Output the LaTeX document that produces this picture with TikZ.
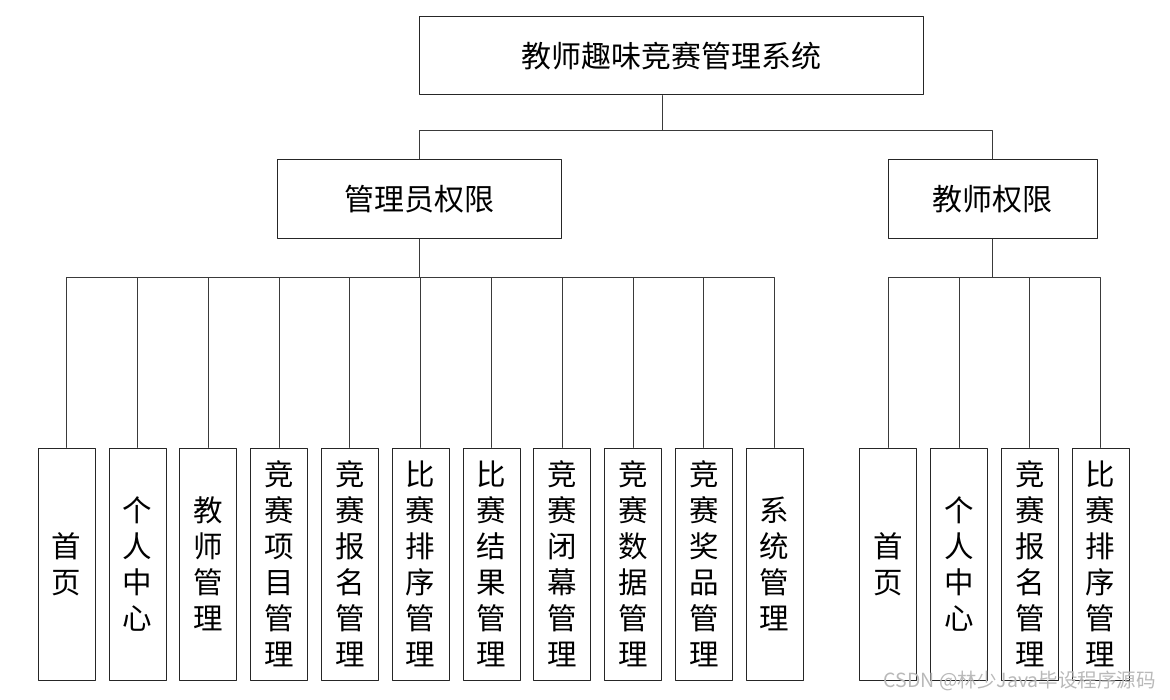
\documentclass[tikz,border=0pt]{standalone}
\usepackage{fontspec}
\setmainfont{Noto Sans CJK SC}
\usepackage{tikz}
\usetikzlibrary{positioning, calc}
\definecolor{boxline}{HTML}{262626}
\definecolor{linkgray}{HTML}{3A3A3A}
\definecolor{markgray}{HTML}{B9B9B9}

\begin{document}
\begin{tikzpicture}[x=1pt, y=-1pt, line cap=round, line join=round,
    sysbox/.style={draw=boxline, line width=1pt, minimum width=504pt, minimum height=78pt,
      inner sep=0pt, font=\fontsize{30pt}{36pt}\selectfont},
    rolebox/.style={draw=boxline, line width=1pt, minimum height=79pt,
      inner sep=0pt, font=\fontsize{30pt}{36pt}\selectfont},
    leafbox/.style={draw=boxline, line width=1pt, minimum width=57pt, minimum height=232pt,
      inner sep=0pt, align=center, font=\fontsize{29.5pt}{36pt}\selectfont},
    link/.style={draw=linkgray, line width=0.9pt}]

      \useasboundingbox (0,0) rectangle (1170,700);

      % Sistema (Arriba)
      \node[sysbox] (Sys) at (671,56) {教师趣味竞赛管理系统};

      % Permisos - Admin / Teacher
      \node[rolebox, minimum width=284pt] (Adm) at (419,199) {管理员权限};
      \node[rolebox, minimum width=209pt] (Tea) at (992.5,199) {教师权限};

      % Admin (Izquierda) - 11 modulos
      \node[leafbox] (Adm1)  at (66.7,564)  {首\\页};
      \node[leafbox] (Adm2)  at (137.5,564) {个\\人\\中\\心};
      \node[leafbox] (Adm3)  at (208.3,564) {教\\师\\管\\理};
      \node[leafbox] (Adm4)  at (279.1,564) {竞\\赛\\项\\目\\管\\理};
      \node[leafbox] (Adm5)  at (349.9,564) {竞\\赛\\报\\名\\管\\理};
      \node[leafbox] (Adm6)  at (420.7,564) {比\\赛\\排\\序\\管\\理};
      \node[leafbox] (Adm7)  at (491.5,564) {比\\赛\\结\\果\\管\\理};
      \node[leafbox] (Adm8)  at (562.3,564) {竞\\赛\\闭\\幕\\管\\理};
      \node[leafbox] (Adm9)  at (633.1,564) {竞\\赛\\数\\据\\管\\理};
      \node[leafbox] (Adm10) at (703.9,564) {竞\\赛\\奖\\品\\管\\理};
      \node[leafbox] (Adm11) at (774.7,564) {系\\统\\管\\理};

      % Teacher (Derecha) - 4 modulos
      \node[leafbox] (Tea1) at (888.3,564)  {首\\页};
      \node[leafbox] (Tea2) at (959.1,564)  {个\\人\\中\\心};
      \node[leafbox] (Tea3) at (1029.9,564) {竞\\赛\\报\\名\\管\\理};
      \node[leafbox] (Tea4) at (1100.7,564) {比\\赛\\排\\序\\管\\理};

      % Conectores
      \coordinate (TopBus) at (662,130.5);
      \coordinate (AdmBus) at (419,277.5);
      \coordinate (TeaBus) at (992.5,277.5);

      \draw[link] ([xshift=-9pt]Sys.south) -- (TopBus);
      \draw[link] (Adm.north) |- (TopBus) -| (Tea.north);

      \draw[link] (Adm.south) -- (AdmBus);
      \draw[link] (Adm1.north) |- (AdmBus);
      \draw[link] (Adm2.north) |- (AdmBus);
      \draw[link] (Adm3.north) |- (AdmBus);
      \draw[link] (Adm4.north) |- (AdmBus);
      \draw[link] (Adm5.north) |- (AdmBus);
      \draw[link] (Adm6.north) |- (AdmBus);
      \draw[link] (Adm7.north) |- (AdmBus);
      \draw[link] (Adm8.north) |- (AdmBus);
      \draw[link] (Adm9.north) |- (AdmBus);
      \draw[link] (Adm10.north) |- (AdmBus);
      \draw[link] (Adm11.north) |- (AdmBus);

      \draw[link] (Tea.south) -- (TeaBus);
      \draw[link] (Tea1.north) |- (TeaBus);
      \draw[link] (Tea2.north) |- (TeaBus);
      \draw[link] (Tea3.north) |- (TeaBus);
      \draw[link] (Tea4.north) |- (TeaBus);

      % Marca de agua
      \node[anchor=east, inner sep=0pt, text=markgray, font=\fontsize{19.5pt}{19.5pt}\selectfont]
        (Mark) at (1156,681) {CSDN @林少Java毕设程序源码};
    \end{tikzpicture}
\end{document}
